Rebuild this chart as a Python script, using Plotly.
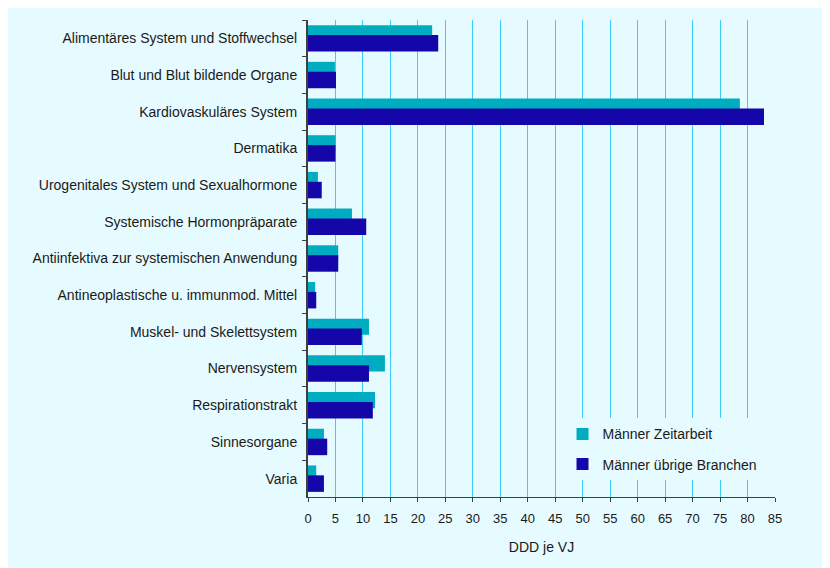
import plotly.graph_objects as go

categories = [
    "Alimentäres System und Stoffwechsel",
    "Blut und Blut bildende Organe",
    "Kardiovaskuläres System",
    "Dermatika",
    "Urogenitales System und Sexualhormone",
    "Systemische Hormonpräparate",
    "Antiinfektiva zur systemischen Anwendung",
    "Antineoplastische u. immunmod. Mittel",
    "Muskel- und Skelettsystem",
    "Nervensystem",
    "Respirationstrakt",
    "Sinnesorgane",
    "Varia",
]
zeitarbeit = [22.6, 4.9, 78.6, 5.0, 1.8, 8.0, 5.5, 1.3, 11.1, 14.0, 12.2, 2.9, 1.5]
uebrige = [23.7, 5.1, 83.0, 5.0, 2.5, 10.6, 5.5, 1.5, 9.8, 11.1, 11.8, 3.5, 2.9]
x_ticks = list(range(0, 90, 5))

bg = "#E6FBFF"
teal = "#00ACBF"
navy = "#1406A8"

fig = go.Figure()
fig.add_trace(go.Bar(
    y=categories, x=zeitarbeit, orientation="h", name="Männer Zeitarbeit",
    marker=dict(color=teal, line=dict(width=0)), offset=-0.36, width=0.44,
    legendgroup="a",
))
fig.add_trace(go.Bar(
    y=categories, x=uebrige, orientation="h", name="Männer übrige Branchen",
    marker=dict(color=navy, line=dict(width=0)), offset=-0.09, width=0.45,
    legendgroup="b",
))

# the page body adds 8px margin, so the figure is a bit smaller than the window
fig.update_layout(
    width=822, height=560,
    margin=dict(l=300, r=55, t=12, b=71),
    paper_bgcolor=bg,
    plot_bgcolor=bg,
    barmode="overlay",
    font=dict(family="Liberation Sans, Arial, sans-serif", size=14, color="#1a1a1a"),
    legend=dict(
        x=0.545, y=0.165, xanchor="left", yanchor="top",
        bgcolor=bg, borderwidth=0, tracegroupgap=9,
        font=dict(size=14),
    ),
    xaxis=dict(
        range=[0, 85], tickvals=x_ticks, showgrid=True,
        gridcolor="#3CCEF8", gridwidth=1,
        showline=True, linecolor="#404040", linewidth=1,
        ticks="outside", ticklen=4, tickcolor="#404040",
        tickfont=dict(size=13), ticklabelstandoff=5,
        zeroline=False,
        title=dict(text="DDD je VJ", standoff=17, font=dict(size=14)),
    ),
    yaxis=dict(
        autorange="reversed", showgrid=False,
        showline=True, linecolor="#404040", linewidth=2,
        ticks="outside", ticklen=4, tickcolor="#404040",
        tickson="boundaries", ticklabelstandoff=6,
    ),
)

fig.write_html("out.html")
